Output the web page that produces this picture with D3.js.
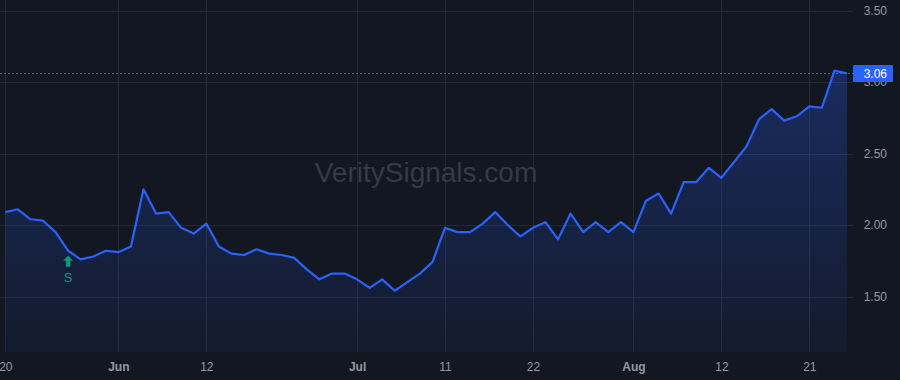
<!DOCTYPE html>
<html>
<head>
<meta charset="utf-8">
<script src="https://cdn.jsdelivr.net/npm/d3@7"></script>
<style>
  html, body { margin: 0; padding: 0; background: #131722; }
  svg { display: block; }
</style>
</head>
<body>
<svg width="900" height="380"></svg>
<script>
// trading days shown on the chart (2024)
var dates = [
  "05-20", "05-21", "05-22", "05-23", "05-24", "05-28", "05-29", "05-30", "05-31",
  "06-03", "06-04", "06-05", "06-06", "06-07", "06-10", "06-11", "06-12", "06-13", "06-14",
  "06-17", "06-18", "06-20", "06-21", "06-24", "06-25", "06-26", "06-27", "06-28",
  "07-01", "07-02", "07-03", "07-05", "07-08", "07-09", "07-10", "07-11", "07-12",
  "07-15", "07-16", "07-17", "07-18", "07-19", "07-22", "07-23", "07-24", "07-25", "07-26",
  "07-29", "07-30", "07-31",
  "08-01", "08-02", "08-05", "08-06", "08-07", "08-08", "08-09", "08-12", "08-13", "08-14",
  "08-15", "08-16", "08-19", "08-20", "08-21", "08-22", "08-23", "08-26"
];

var prices = [
  2.09, 2.11, 2.04, 2.03, 1.95, 1.82, 1.76, 1.78, 1.82,
  1.81, 1.85, 2.25, 2.08, 2.09, 1.98, 1.94, 2.01, 1.85, 1.80,
  1.79, 1.83, 1.80, 1.79, 1.77, 1.69, 1.62, 1.66, 1.66,
  1.62, 1.56, 1.62, 1.54, 1.60, 1.66, 1.74, 1.98, 1.95,
  1.95, 2.01, 2.09, 2.00, 1.92, 1.98, 2.02, 1.90, 2.08, 1.95,
  2.02, 1.95, 2.02,
  1.95, 2.17, 2.22, 2.08, 2.30, 2.30, 2.40, 2.33, 2.44, 2.55,
  2.74, 2.81, 2.73, 2.76, 2.83, 2.82, 3.08, 3.06
];

var xTicks = ["05-20", "06-03", "06-12", "07-01", "07-11", "07-22", "08-01", "08-12", "08-21"];
var xTickLabels = ["20", "Jun", "12", "Jul", "11", "22", "Aug", "12", "21"];
var yTicks = [1.5, 2.0, 2.5, 3.0, 3.5];

var signals = [{ date: "05-28", label: "S" }];
var lastPrice = 3.06;

var data = dates.map(function (d, i) {
  return { i: i, date: d, price: prices[i] };
});

var svg = d3.select("svg");
var plotRight = 853;
var plotBottom = 352;

var x = d3.scaleLinear().domain([0, dates.length - 1]).range([5.3, 847]);
var y = d3.scaleLinear().domain([1.5, 3.5]).range([296.5, 10.5]);

svg.append("rect")
  .attr("width", 900)
  .attr("height", 380)
  .attr("fill", "#131722");

// grid
svg.append("g")
  .selectAll("line")
  .data(yTicks)
  .enter()
  .append("line")
  .attr("x1", 0)
  .attr("x2", plotRight)
  .attr("y1", function (d) { return Math.round(y(d)) + 0.5; })
  .attr("y2", function (d) { return Math.round(y(d)) + 0.5; })
  .attr("stroke", "#242833");

svg.append("g")
  .selectAll("line")
  .data(xTicks)
  .enter()
  .append("line")
  .attr("x1", function (d) { return Math.round(x(dates.indexOf(d))) + 0.5; })
  .attr("x2", function (d) { return Math.round(x(dates.indexOf(d))) + 0.5; })
  .attr("y1", 0)
  .attr("y2", plotBottom)
  .attr("stroke", "#242833");

// watermark
svg.append("text")
  .attr("x", 426)
  .attr("y", 182)
  .attr("text-anchor", "middle")
  .attr("font-family", "Liberation Sans, Arial, sans-serif")
  .attr("font-size", 28)
  .attr("fill", "#363a45")
  .text("VeritySignals.com");

// area
var grad = svg.append("defs")
  .append("linearGradient")
  .attr("id", "fillGrad")
  .attr("gradientUnits", "userSpaceOnUse")
  .attr("x1", 0).attr("x2", 0)
  .attr("y1", y(d3.max(prices))).attr("y2", plotBottom);
grad.append("stop").attr("offset", "0%").attr("stop-color", "#2962ff").attr("stop-opacity", 0.28);
grad.append("stop").attr("offset", "100%").attr("stop-color", "#2962ff").attr("stop-opacity", 0.05);

svg.append("path")
  .datum(data)
  .attr("fill", "url(#fillGrad)")
  .attr("d", d3.area()
    .x(function (d) { return x(d.i); })
    .y0(plotBottom)
    .y1(function (d) { return y(d.price); }));

// last price dotted line
svg.append("line")
  .attr("x1", 0)
  .attr("x2", plotRight)
  .attr("y1", Math.round(y(lastPrice)) + 0.5)
  .attr("y2", Math.round(y(lastPrice)) + 0.5)
  .attr("stroke", "#2962ff")
  .attr("stroke-dasharray", "2,2");

svg.append("path")
  .datum(data)
  .attr("fill", "none")
  .attr("stroke", "#2962ff")
  .attr("stroke-width", 2.2)
  .attr("stroke-linejoin", "round")
  .attr("d", d3.line()
    .x(function (d) { return x(d.i); })
    .y(function (d) { return y(d.price); }));

// signal markers
var sig = svg.append("g")
  .selectAll("g")
  .data(signals)
  .enter()
  .append("g")
  .attr("transform", function (d) {
    var i = dates.indexOf(d.date);
    return "translate(" + x(i) + "," + (y(prices[i]) + 5) + ")";
  });

sig.append("path")
  .attr("d", "M0,0 L5,5 L2.2,5 L2.2,11 L-2.2,11 L-2.2,5 L-5,5 Z")
  .attr("fill", "#089981");

sig.append("text")
  .attr("y", 26)
  .attr("text-anchor", "middle")
  .attr("font-family", "Liberation Sans, Arial, sans-serif")
  .attr("font-size", 13)
  .attr("fill", "#089981")
  .text(function (d) { return d.label; });

// axes
var yAxis = svg.append("g")
  .attr("transform", "translate(887,0)")
  .call(d3.axisRight(y).tickValues(yTicks).tickSize(0).tickPadding(0).tickFormat(d3.format(".2f")));
yAxis.select(".domain").remove();
yAxis.selectAll("text")
  .attr("text-anchor", "end")
  .attr("fill", "#9598a1")
  .attr("font-family", "Liberation Sans, Arial, sans-serif")
  .attr("font-size", 12);

var xAxis = svg.append("g")
  .attr("transform", "translate(0," + plotBottom + ")")
  .call(d3.axisBottom(x)
    .tickValues(xTicks.map(function (d) { return dates.indexOf(d); }))
    .tickSize(0)
    .tickPadding(10)
    .tickFormat(function (d, i) { return xTickLabels[i]; }));
xAxis.select(".domain").remove();
xAxis.selectAll("text")
  .attr("fill", "#9598a1")
  .attr("font-family", "Liberation Sans, Arial, sans-serif")
  .attr("font-size", 12)
  .attr("font-weight", function (d, i) {
    return isNaN(+xTickLabels[i]) ? "bold" : "normal";
  });

// last price tag (drawn over the 3.00 label, as in the source chart)
svg.append("rect")
  .attr("x", 853)
  .attr("y", y(lastPrice) - 8.5)
  .attr("width", 40)
  .attr("height", 17)
  .attr("rx", 1)
  .attr("fill", "#2962ff");

svg.append("text")
  .attr("x", 887)
  .attr("y", y(lastPrice))
  .attr("dy", "0.35em")
  .attr("text-anchor", "end")
  .attr("font-family", "Liberation Sans, Arial, sans-serif")
  .attr("font-size", 12)
  .attr("fill", "#ffffff")
  .text(lastPrice.toFixed(2));
</script>
</body>
</html>
